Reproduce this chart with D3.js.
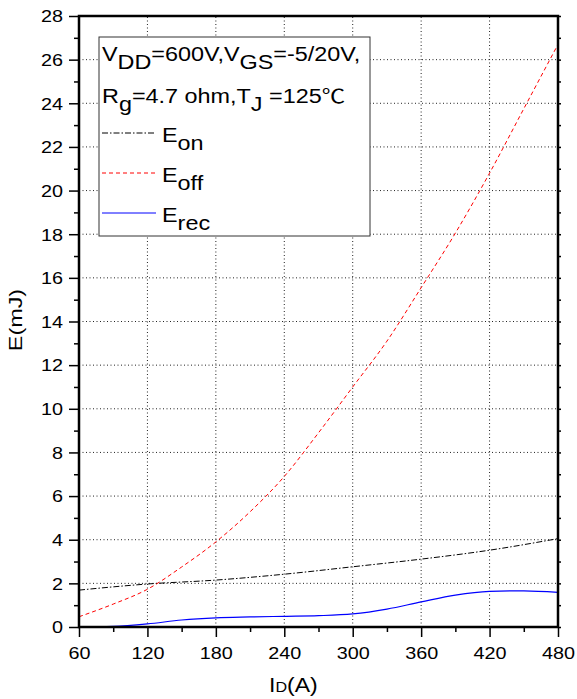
<!DOCTYPE html>
<html>
<head>
<meta charset="utf-8">
<script src="https://cdn.jsdelivr.net/npm/d3@7"></script>
<style>
  body { margin: 0; background: #fff; }
  svg { font-family: "Liberation Sans", Arial, sans-serif; }
</style>
</head>
<body>
<script>
// current in A
var eonX = [60, 120, 180, 240, 300, 360, 420, 480];
var eonY = [1.69, 1.97, 2.15, 2.42, 2.76, 3.11, 3.52, 4.05];

var eoffX = [60, 90, 120, 150, 180, 210, 240, 270, 300, 330, 360, 390, 420, 450, 480];
var eoffY = [0.47, 1.05, 1.73, 2.75, 3.9, 5.28, 6.9, 8.9, 11.0, 13.1, 15.55, 18.05, 20.8, 23.75, 26.7];

var erecX = [60, 90, 120, 150, 180, 210, 240, 270, 300, 330, 360, 390, 420, 450, 480];
var erecY = [0.01, 0.03, 0.14, 0.32, 0.42, 0.46, 0.49, 0.52, 0.6, 0.82, 1.15, 1.46, 1.63, 1.66, 1.59];

var xMajor = [60, 120, 180, 240, 300, 360, 420, 480];
var xMinor = [90, 150, 210, 270, 330, 390, 450];
var yMajor = [0, 2, 4, 6, 8, 10, 12, 14, 16, 18, 20, 22, 24, 26, 28];
var yMinor = [1, 3, 5, 7, 9, 11, 13, 15, 17, 19, 21, 23, 25, 27];

var w = 577, h = 699;
var sx = 1.2; // text in the picture is wide

var x = d3.scaleLinear().domain([60, 480]).range([79, 558]);
var y = d3.scaleLinear().domain([0, 28]).range([627, 16]);

var svg = d3.select("body").append("svg")
    .attr("width", w)
    .attr("height", h);

// grid
var grid = svg.append("g")
    .attr("stroke", "#222")
    .attr("stroke-width", 1)
    .attr("stroke-dasharray", "1,2.5");

grid.selectAll(".gx")
    .data(xMajor.slice(1, -1))
    .enter().append("line")
    .attr("x1", d => x(d)).attr("x2", d => x(d))
    .attr("y1", y(0)).attr("y2", y(28));

grid.selectAll(".gy")
    .data(yMajor.slice(1, -1))
    .enter().append("line")
    .attr("x1", x(60)).attr("x2", x(480))
    .attr("y1", d => y(d)).attr("y2", d => y(d));

// legend box (covers grid)
var legend = svg.append("g");
legend.append("rect")
    .attr("x", 99).attr("y", 37)
    .attr("width", 271).attr("height", 199)
    .attr("fill", "#fff")
    .attr("stroke", "#333")
    .attr("stroke-width", 1);

// curves
var line = d3.line()
    .x(d => x(d[0]))
    .y(d => y(d[1]))
    .curve(d3.curveMonotoneX);

svg.append("path")
    .datum(d3.zip(eonX, eonY))
    .attr("d", line)
    .attr("fill", "none")
    .attr("stroke", "#000")
    .attr("stroke-width", 1)
    .attr("stroke-dasharray", "6,2,1.5,2");

svg.append("path")
    .datum(d3.zip(eoffX, eoffY))
    .attr("d", line)
    .attr("fill", "none")
    .attr("stroke", "#ff0000")
    .attr("stroke-width", 1)
    .attr("stroke-dasharray", "4,3");

svg.append("path")
    .datum(d3.zip(erecX, erecY))
    .attr("d", line)
    .attr("fill", "none")
    .attr("stroke", "#0000ff")
    .attr("stroke-width", 1.2);

// axes
svg.append("g")
    .attr("transform", "translate(79,0)")
    .call(d3.axisLeft(y).tickValues(yMinor).tickSize(5).tickFormat(""))
    .call(g => g.select(".domain").remove());

var yAxis = svg.append("g")
    .attr("transform", "translate(79,0)")
    .call(d3.axisLeft(y).tickValues(yMajor).tickSize(10).tickFormat(d3.format("d")));

svg.append("g")
    .attr("transform", "translate(558,0)")
    .call(d3.axisRight(y).tickValues(yMajor.concat(yMinor)).tickSize(3).tickFormat(""))
    .call(g => g.select(".domain").remove());

svg.append("g")
    .attr("transform", "translate(0,627)")
    .call(d3.axisBottom(x).tickValues(xMinor).tickSize(5).tickFormat(""))
    .call(g => g.select(".domain").remove());

var xAxis = svg.append("g")
    .attr("transform", "translate(0,627)")
    .call(d3.axisBottom(x).tickValues(xMajor).tickSize(10).tickFormat(d3.format("d")));

svg.selectAll(".tick line").attr("stroke", "#000").attr("stroke-width", 1.5);

yAxis.selectAll("text")
    .attr("x", null).attr("dy", null)
    .attr("transform", "translate(-16,5.8) scale(" + sx + ",1)")
    .attr("font-size", 16.5).attr("fill", "#000");

xAxis.selectAll("text")
    .attr("y", null).attr("dy", null)
    .attr("transform", "translate(0,32) scale(" + sx + ",1)")
    .attr("font-size", 16.5).attr("fill", "#000");

svg.selectAll(".domain").remove();

// frame
svg.append("rect")
    .attr("x", x(60)).attr("y", y(28))
    .attr("width", x(480) - x(60)).attr("height", y(0) - y(28))
    .attr("fill", "none")
    .attr("stroke", "#000")
    .attr("stroke-width", 2.5);

// axis titles
svg.append("text")
    .attr("transform", "translate(22,320) rotate(-90) scale(1.3,1)")
    .attr("text-anchor", "middle")
    .attr("font-size", 18)
    .text("E(mJ)");

var xt = svg.append("text")
    .attr("transform", "translate(269,692) scale(1.15,1)")
    .attr("font-size", 20);
xt.append("tspan").text("I");
xt.append("tspan").attr("font-size", 14).text("D");
xt.append("tspan").text("(A)");

// legend text
function subText(g, tx, ty, parts) {
    var t = g.append("text")
        .attr("transform", "translate(" + tx + "," + ty + ") scale(" + sx + ",1)")
        .attr("font-size", 19.5);
    var shift = 0;
    parts.forEach(function(p) {
        var s = p[1] ? 8 : 0;
        var ts = t.append("tspan").attr("dy", s - shift).text(p[0]);
        if (p[2]) ts.attr("font-family", p[2]);
        shift = s;
    });
}

subText(legend, 102, 60.5, [["V"], ["DD", 1], ["=600V,V"], ["GS", 1], ["=-5/20V,"]]);
subText(legend, 102, 102.5, [["R"], ["g", 1], ["=4.7 ohm,T"], ["J", 1], [" =125"], ["\u2103", 0, "Noto Sans CJK SC"]]);

var names = [["E", "on"], ["E", "off"], ["E", "rec"]];
var legY = [133, 173, 213];
var legStyle = [
    {c: "#000", d: "6,2,1.5,2"},
    {c: "#ff0000", d: "4,3"},
    {c: "#0000ff", d: null}
];

legend.selectAll(".ls")
    .data(legY)
    .enter().append("line")
    .attr("x1", 102).attr("x2", 156)
    .attr("y1", d => d).attr("y2", d => d)
    .attr("stroke", (d, i) => legStyle[i].c)
    .attr("stroke-dasharray", (d, i) => legStyle[i].d)
    .attr("stroke-width", 1);

names.forEach(function(n, i) {
    subText(legend, 162, legY[i] + 9, [[n[0]], [n[1], 1]]);
});
</script>
</body>
</html>
